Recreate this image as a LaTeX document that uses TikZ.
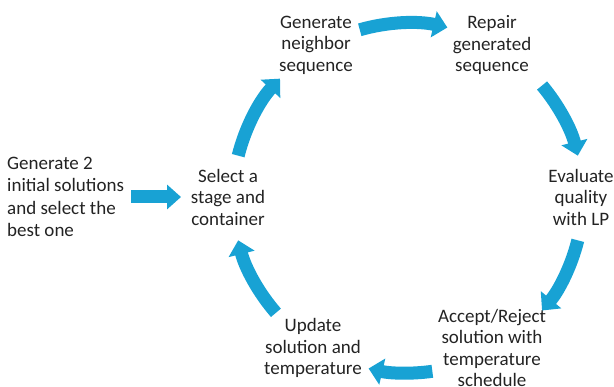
\documentclass[tikz,border=0pt]{standalone}
\usepackage{fontspec}
\setmainfont{Carlito}
\usetikzlibrary{arrows.meta}
\definecolor{cyc}{RGB}{24,162,212}
\definecolor{txt}{RGB}{35,35,35}
\begin{document}
\begin{tikzpicture}[x=1pt,y=-1pt,
  lbl/.style={align=center,font=\fontsize{19}{21.5}\selectfont,text=txt,inner sep=0pt},
  flow/.style={draw=cyc,line width=13pt,-{Triangle[length=14pt,width=26pt]}}]
\useasboundingbox (0,0) rectangle (614,387);
\node[lbl] (gen) at (316,45) {Generate\\neighbor\\sequence};
\node[lbl] (rep) at (492,45) {Repair\\generated\\sequence};
\node[lbl] (eva) at (581,197) {Evaluate\\quality\\with LP};
\node[lbl] (acc) at (492,348) {Accept/Reject\\solution with\\temperature\\schedule};
\node[lbl] (upd) at (313,348) {Update\\solution and\\temperature};
\node[lbl] (sel) at (228,197) {Select a\\stage and\\container};
\node[lbl,align=left,anchor=west,font=\fontsize{19}{22.5}\selectfont] (ini) at (7,197) {Generate 2\\initial solutions\\and select the\\best one};
\coordinate (c) at (408,198);
\begin{scope}[shift={(c)},y=1pt]
\coordinate (a1) at (106:175);
\coordinate (a2) at (40:175);
\coordinate (a3) at (-14:175);
\coordinate (a4) at (-82:175);
\coordinate (a5) at (-139:175);
\coordinate (a6) at (166:175);
\end{scope}
\draw[flow] (a1) arc[start angle=-106,end angle=-77,radius=175];
\draw[flow] (a2) arc[start angle=-40,end angle=-14,radius=175];
\draw[flow] (a3) arc[start angle=14,end angle=40,radius=175];
\draw[flow] (a4) arc[start angle=82,end angle=103,radius=175];
\draw[flow] (a5) arc[start angle=139,end angle=166,radius=175];
\draw[flow] (a6) arc[start angle=-166,end angle=-137,radius=175];
\coordinate (l1) at (131,197);
\coordinate (l2) at (181,197);
\draw[flow,-{Triangle[length=14pt,width=24pt]}] (l1) -- (l2);
\end{tikzpicture}
\end{document}
